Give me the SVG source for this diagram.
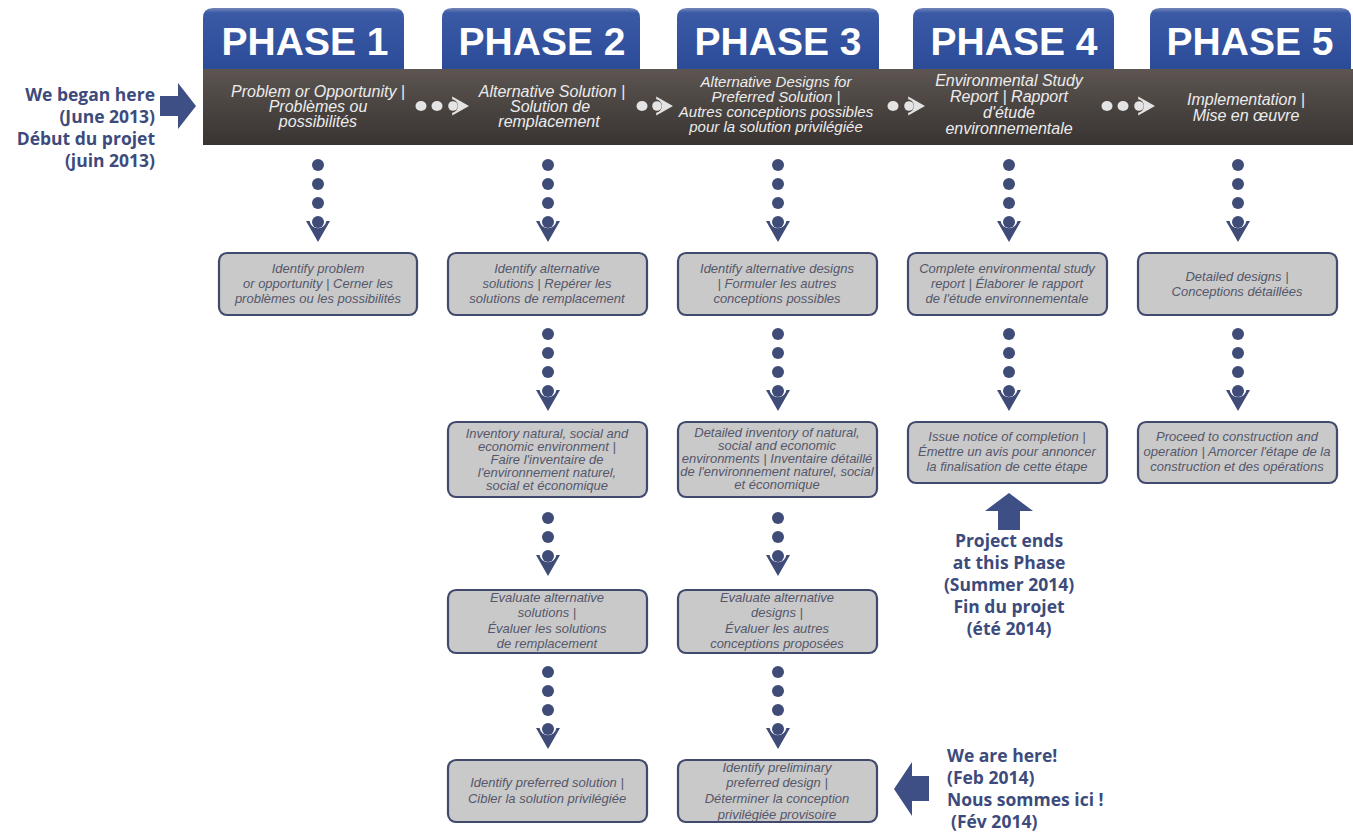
<svg xmlns="http://www.w3.org/2000/svg" xmlns:xlink="http://www.w3.org/1999/xlink" width="1353" height="832" viewBox="0 0 1353 832">
<style>
.tabtxt{font-family:"Liberation Sans",Arial,sans-serif;font-weight:bold;font-size:39px;fill:#ffffff;text-anchor:middle}
.bartxt{font-family:"Liberation Sans",Arial,sans-serif;font-style:italic;font-size:16px;fill:#ececec;text-anchor:middle}
.box{fill:#c9c9c9;stroke:#414a6e;stroke-width:2.2}
.boxtxt{font-family:"Liberation Sans",Arial,sans-serif;font-style:italic;font-size:13px;fill:#55576a;text-anchor:middle}
.call{font-family:"Open Sans","Liberation Sans",sans-serif;font-weight:bold;font-size:17.5px;fill:#3d4b7c}
.dot{fill:#3f4c78}
.wdot{fill:#e4e4e4}
.carrow{fill:#3d4f84}
</style>
<defs>
<linearGradient id="tabg" x1="0" y1="0" x2="0" y2="1">
<stop offset="0" stop-color="#7486b8"/>
<stop offset="0.08" stop-color="#3a5aa6"/>
<stop offset="1" stop-color="#2b4a97"/>
</linearGradient>
<linearGradient id="barg" x1="0" y1="0" x2="0" y2="1">
<stop offset="0" stop-color="#5c5552"/>
<stop offset="0.5" stop-color="#4a4441"/>
<stop offset="1" stop-color="#393432"/>
</linearGradient>
<g id="varrow">
<circle cx="0" cy="0" r="6"/>
<path d="M-12,-1 L-8.4,-1 A8.5,8.5 0 0 0 8.4,-1 L12,-1 L0,20 Z"/>
</g>
<g id="dot"><circle cx="0" cy="0" r="6"/></g>
</defs>

<g id="header">
<path d="M203,70 V18 Q203,8 213,8 H394 Q404,8 404,18 V70 Z" fill="url(#tabg)"/>
<path d="M442,70 V18 Q442,8 452,8 H630 Q640,8 640,18 V70 Z" fill="url(#tabg)"/>
<path d="M677,70 V18 Q677,8 687,8 H869 Q879,8 879,18 V70 Z" fill="url(#tabg)"/>
<path d="M913,70 V18 Q913,8 923,8 H1104 Q1114,8 1114,18 V70 Z" fill="url(#tabg)"/>
<path d="M1150,70 V18 Q1150,8 1160,8 H1341 Q1351,8 1351,18 V70 Z" fill="url(#tabg)"/>
<rect x="203" y="69" width="1150" height="76" fill="url(#barg)"/>
<text class="tabtxt" x="305" y="55">PHASE 1</text>
<text class="tabtxt" x="542" y="55">PHASE 2</text>
<text class="tabtxt" x="778" y="55">PHASE 3</text>
<text class="tabtxt" x="1014" y="55">PHASE 4</text>
<text class="tabtxt" x="1250" y="55">PHASE 5</text>
</g>

<g id="phase1-title"><text class="bartxt" x="318"><tspan x="318" y="97">Problem or Opportunity |</tspan><tspan x="318" y="112">Problèmes ou</tspan><tspan x="318" y="127">possibilités</tspan></text></g>
<g id="phase2-title"><text class="bartxt" x="550"><tspan x="552" y="97">Alternative Solution |</tspan><tspan x="550" y="112">Solution de</tspan><tspan x="549" y="127">remplacement</tspan></text></g>
<g id="phase3-title"><text class="bartxt" x="776" style="font-size:15px"><tspan x="776" y="87">Alternative Designs for</tspan><tspan x="776" y="102">Preferred Solution |</tspan><tspan x="776" y="117">Autres conceptions possibles</tspan><tspan x="776" y="132">pour la solution privilégiée</tspan></text></g>
<g id="phase4-title"><text class="bartxt" x="1009"><tspan x="1009" y="86">Environmental Study</tspan><tspan x="1009" y="102">Report | Rapport</tspan><tspan x="1009" y="118">d'étude</tspan><tspan x="1009" y="134">environnementale</tspan></text></g>
<g id="phase5-title"><text class="bartxt" x="1246"><tspan x="1246" y="105">Implementation |</tspan><tspan x="1246" y="121">Mise en œuvre</tspan></text></g>

<g id="connectors">
<g class="wdot">
<ellipse cx="421" cy="106" rx="5.5" ry="5"/><ellipse cx="437" cy="106" rx="5.5" ry="5"/>
<use xlink:href="#varrow" href="#varrow" transform="translate(453,106) rotate(-90) scale(0.8)"/>
<ellipse cx="642" cy="106" rx="5.5" ry="5"/>
<use xlink:href="#varrow" href="#varrow" transform="translate(657,106) rotate(-90) scale(0.8)"/>
<ellipse cx="893" cy="106" rx="5.5" ry="5"/>
<use xlink:href="#varrow" href="#varrow" transform="translate(909,106) rotate(-90) scale(0.8)"/>
<ellipse cx="1107" cy="106" rx="5.5" ry="5"/><ellipse cx="1123" cy="106" rx="5.5" ry="5"/>
<use xlink:href="#varrow" href="#varrow" transform="translate(1139,106) rotate(-90) scale(0.8)"/>
</g>
<g class="dot">
<use href="#dot" x="318" y="165"/><use href="#dot" x="318" y="184"/><use href="#dot" x="318" y="203"/><use href="#varrow" x="318" y="222"/>
<use href="#dot" x="548" y="165"/><use href="#dot" x="548" y="184"/><use href="#dot" x="548" y="203"/><use href="#varrow" x="548" y="222"/>
<use href="#dot" x="778" y="165"/><use href="#dot" x="778" y="184"/><use href="#dot" x="778" y="203"/><use href="#varrow" x="778" y="222"/>
<use href="#dot" x="1009" y="165"/><use href="#dot" x="1009" y="184"/><use href="#dot" x="1009" y="203"/><use href="#varrow" x="1009" y="222"/>
<use href="#dot" x="1238" y="165"/><use href="#dot" x="1238" y="184"/><use href="#dot" x="1238" y="203"/><use href="#varrow" x="1238" y="222"/>
<use href="#dot" x="548" y="334"/><use href="#dot" x="548" y="353"/><use href="#dot" x="548" y="372"/><use href="#varrow" x="548" y="391"/>
<use href="#dot" x="778" y="334"/><use href="#dot" x="778" y="353"/><use href="#dot" x="778" y="372"/><use href="#varrow" x="778" y="391"/>
<use href="#dot" x="1009" y="334"/><use href="#dot" x="1009" y="353"/><use href="#dot" x="1009" y="372"/><use href="#varrow" x="1009" y="391"/>
<use href="#dot" x="1238" y="334"/><use href="#dot" x="1238" y="353"/><use href="#dot" x="1238" y="372"/><use href="#varrow" x="1238" y="391"/>
<use href="#dot" x="548" y="518"/><use href="#dot" x="548" y="537"/><use href="#varrow" x="548" y="556"/>
<use href="#dot" x="778" y="518"/><use href="#dot" x="778" y="537"/><use href="#varrow" x="778" y="556"/>
<use href="#dot" x="548" y="672"/><use href="#dot" x="548" y="691"/><use href="#dot" x="548" y="710"/><use href="#varrow" x="548" y="729"/>
<use href="#dot" x="778" y="672"/><use href="#dot" x="778" y="691"/><use href="#dot" x="778" y="710"/><use href="#varrow" x="778" y="729"/>
</g>
</g>

<g id="box-p1-1"><rect class="box" x="219" y="253" width="198" height="62" rx="8"/>
<text class="boxtxt"><tspan x="318" y="273">Identify problem</tspan><tspan x="318" y="288">or opportunity | Cerner les</tspan><tspan x="318" y="303">problèmes ou les possibilités</tspan></text></g>
<g id="box-p2-1"><rect class="box" x="448" y="253" width="199" height="62" rx="8"/>
<text class="boxtxt"><tspan x="547" y="273">Identify alternative</tspan><tspan x="547" y="288">solutions | Repérer les</tspan><tspan x="547" y="303">solutions de remplacement</tspan></text></g>
<g id="box-p3-1"><rect class="box" x="678" y="253" width="199" height="62" rx="8"/>
<text class="boxtxt"><tspan x="777" y="273">Identify alternative designs</tspan><tspan x="777" y="288">| Formuler les autres</tspan><tspan x="777" y="303">conceptions possibles</tspan></text></g>
<g id="box-p4-1"><rect class="box" x="908" y="253" width="199" height="62" rx="8"/>
<text class="boxtxt"><tspan x="1007" y="273">Complete environmental study</tspan><tspan x="1007" y="288">report | Élaborer le rapport</tspan><tspan x="1007" y="303">de l'étude environnementale</tspan></text></g>
<g id="box-p5-1"><rect class="box" x="1138" y="253" width="199" height="62" rx="8"/>
<text class="boxtxt"><tspan x="1237" y="281">Detailed designs |</tspan><tspan x="1237" y="296">Conceptions détaillées</tspan></text></g>

<g id="box-p2-2"><rect class="box" x="448" y="422" width="199" height="75" rx="8"/>
<text class="boxtxt"><tspan x="547" y="438">Inventory natural, social and</tspan><tspan x="547" y="451">economic environment  |</tspan><tspan x="547" y="464">Faire l'inventaire de</tspan><tspan x="547" y="477">l'environnement naturel,</tspan><tspan x="547" y="490">social et économique</tspan></text></g>
<g id="box-p3-2"><rect class="box" x="678" y="422" width="199" height="75" rx="8"/>
<text class="boxtxt"><tspan x="777" y="437">Detailed inventory of natural,</tspan><tspan x="777" y="450">social and economic</tspan><tspan x="777" y="463">environments | Inventaire détaillé</tspan><tspan x="777" y="476">de l'environnement naturel, social</tspan><tspan x="777" y="489">et économique</tspan></text></g>
<g id="box-p4-2"><rect class="box" x="908" y="422" width="199" height="61" rx="8"/>
<text class="boxtxt"><tspan x="1007" y="441">Issue notice of completion |</tspan><tspan x="1007" y="456">Émettre un avis pour annoncer</tspan><tspan x="1007" y="471">la finalisation de cette étape</tspan></text></g>
<g id="box-p5-2"><rect class="box" x="1138" y="422" width="199" height="61" rx="8"/>
<text class="boxtxt"><tspan x="1237" y="441">Proceed to construction and</tspan><tspan x="1237" y="456">operation | Amorcer l'étape de la</tspan><tspan x="1237" y="471">construction et des opérations</tspan></text></g>

<g id="box-p2-3"><rect class="box" x="448" y="590" width="199" height="63" rx="8"/>
<text class="boxtxt"><tspan x="547" y="602">Evaluate alternative</tspan><tspan x="547" y="617">solutions |</tspan><tspan x="547" y="633">Évaluer les solutions</tspan><tspan x="547" y="648">de remplacement</tspan></text></g>
<g id="box-p3-3"><rect class="box" x="678" y="590" width="199" height="63" rx="8"/>
<text class="boxtxt"><tspan x="777" y="602">Evaluate alternative</tspan><tspan x="777" y="617">designs |</tspan><tspan x="777" y="633">Évaluer les autres</tspan><tspan x="777" y="648">conceptions proposées</tspan></text></g>

<g id="box-p2-4"><rect class="box" x="448" y="760" width="199" height="62" rx="8"/>
<text class="boxtxt"><tspan x="547" y="787">Identify preferred solution |</tspan><tspan x="547" y="803">Cibler la solution privilégiée</tspan></text></g>
<g id="box-p3-4"><rect class="box" x="678" y="760" width="199" height="62" rx="8"/>
<text class="boxtxt"><tspan x="777" y="772">Identify preliminary</tspan><tspan x="777" y="787">preferred design |</tspan><tspan x="777" y="803">Déterminer la conception</tspan><tspan x="777" y="819">privilégiée provisoire</tspan></text></g>

<g id="callout-start">
<path class="carrow" d="M160,96 H178 V83 L196,106 L178,129 V116 H160 Z"/>
<text class="call" text-anchor="end"><tspan x="155" y="101">We began here</tspan><tspan x="155" y="123">(June 2013)</tspan><tspan x="155" y="145">Début du projet</tspan><tspan x="155" y="167">(juin 2013)</tspan></text>
</g>
<g id="callout-end">
<path class="carrow" d="M998,530 V511 H985 L1009,493 L1033,511 H1020 V530 Z"/>
<text class="call" text-anchor="middle"><tspan x="1009" y="547">Project ends</tspan><tspan x="1009" y="569">at this Phase</tspan><tspan x="1009" y="591">(Summer 2014)</tspan><tspan x="1009" y="613">Fin du projet</tspan><tspan x="1009" y="635">(été 2014)</tspan></text>
</g>
<g id="callout-now">
<path class="carrow" d="M929,776 H912 V762 L894,789 L912,816 V801 H929 Z"/>
<text class="call"><tspan x="947" y="762">We are here!</tspan><tspan x="947" y="784">(Feb 2014)</tspan><tspan x="947" y="806">Nous sommes ici !</tspan><tspan x="951" y="828">(Fév 2014)</tspan></text>
</g>
</svg>
